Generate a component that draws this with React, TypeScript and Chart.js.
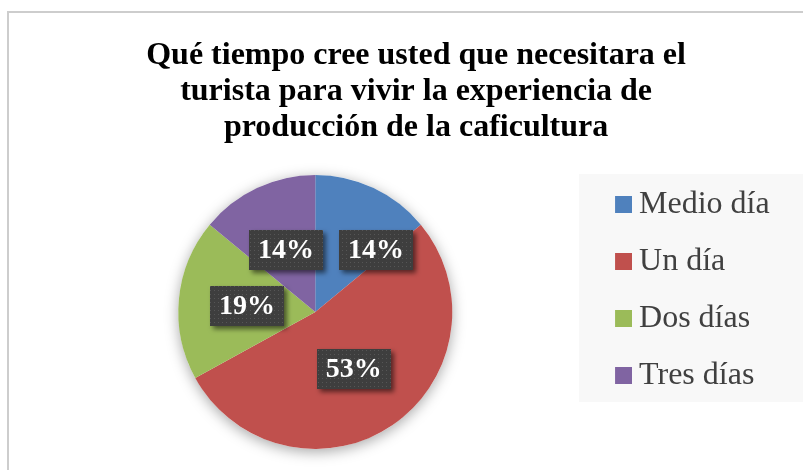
import React, { useEffect, useRef } from 'react';
import { Chart, registerables } from 'chart.js';

Chart.register(...registerables);

const titleLines = [
  'Qué tiempo cree usted que necesitara el',
  'turista para vivir la experiencia de',
  'producción de la caficultura',
];
const categories = ['Medio día', 'Un día', 'Dos días', 'Tres días'];
const values = [14, 53, 19, 14];
const colors = ['#4F81BD', '#C0504D', '#9BBB59', '#8064A2'];

const SERIF = '"Liberation Serif", "Times New Roman", serif';
const SWATCH_W = 20;

function makeSwatch(color: string) {
  const c = document.createElement('canvas');
  c.width = SWATCH_W + 18;
  c.height = 17;
  const g = c.getContext('2d')!;
  g.fillStyle = color;
  g.fillRect(SWATCH_W + 1, 0, 17, 17);
  return c;
}

function makePattern(ctx: CanvasRenderingContext2D) {
  const c = document.createElement('canvas');
  c.width = 4;
  c.height = 4;
  const g = c.getContext('2d')!;
  g.fillStyle = '#3e3e3e';
  g.fillRect(0, 0, 4, 4);
  g.fillStyle = '#565656';
  g.fillRect(1, 1, 1, 1);
  return ctx.createPattern(c, 'repeat');
}

const legendBgPlugin = {
  id: 'legendBg',
  beforeDraw(chart: any) {
    const l = chart.legend;
    if (!l) return;
    const ctx = chart.ctx;
    ctx.save();
    ctx.fillStyle = '#f8f8f8';
    const x0 = l.left + 1;
    ctx.fillRect(x0, l.top + 10, chart.width - x0, 228);
    ctx.restore();
  },
};

const pieShadowPlugin = {
  id: 'pieShadow',
  beforeDatasetsDraw(chart: any) {
    const arc = chart.getDatasetMeta(0).data[0];
    if (!arc) return;
    const { x, y, outerRadius } = arc.getProps(['x', 'y', 'outerRadius'], true);
    const ctx = chart.ctx;
    ctx.save();
    ctx.shadowColor = 'rgba(0,0,0,0.35)';
    ctx.shadowBlur = 14;
    ctx.shadowOffsetY = 3;
    ctx.beginPath();
    ctx.arc(x, y, outerRadius, 0, Math.PI * 2);
    ctx.fillStyle = '#ffffff';
    ctx.fill();
    ctx.restore();
  },
};

const dataLabelPlugin = {
  id: 'boxLabels',
  afterDatasetsDraw(chart: any) {
    const ctx = chart.ctx as CanvasRenderingContext2D;
    const meta = chart.getDatasetMeta(0);
    const data = chart.data.datasets[0].data as number[];
    const total = data.reduce((a, b) => a + b, 0);
    const W = 74;
    const H = 40;
    const gap = 16;
    const items = meta.data.map((arc: any, i: number) => {
      const p = arc.getProps(['x', 'y', 'startAngle', 'endAngle', 'outerRadius'], true);
      const mid = (p.startAngle + p.endAngle) / 2;
      const r = p.outerRadius * 0.5;
      return {
        x: p.x + Math.cos(mid) * r,
        y: p.y + Math.sin(mid) * r,
        text: Math.round((data[i] / total) * 100) + '%',
      };
    });
    const placed: any[] = [];
    for (let i = items.length - 1; i >= 0; i--) {
      const it = items[i];
      for (const o of placed) {
        if (Math.abs(it.x - o.x) < W && Math.abs(it.y - o.y) < H) {
          const dir = it.x >= o.x ? 1 : -1;
          it.x = o.x + dir * (W + gap);
        }
      }
      placed.push(it);
    }
    const pattern = makePattern(ctx);
    items.forEach((it: any) => {
      ctx.save();
      ctx.shadowColor = 'rgba(0,0,0,0.55)';
      ctx.shadowBlur = 5;
      ctx.shadowOffsetX = 3;
      ctx.shadowOffsetY = 3;
      ctx.fillStyle = pattern || '#3e3e3e';
      ctx.fillRect(Math.round(it.x - W / 2), Math.round(it.y - H / 2), W, H);
      ctx.restore();
      ctx.save();
      ctx.fillStyle = '#ffffff';
      ctx.font = 'bold 28px ' + SERIF;
      ctx.textAlign = 'center';
      ctx.textBaseline = 'middle';
      ctx.fillText(it.text, it.x, it.y + 1);
      ctx.restore();
    });
  },
};

export default function App() {
  const ref = useRef<HTMLCanvasElement>(null);

  useEffect(() => {
    document.body.style.overflow = 'hidden';
    const canvas = ref.current!;
    const defaultGen = (Chart as any).overrides.pie.plugins.legend.labels.generateLabels;
    const chart = new Chart(canvas, {
      type: 'pie',
      data: {
        labels: categories,
        datasets: [
          {
            data: values,
            backgroundColor: colors,
            borderWidth: 0,
          },
        ],
      },
      options: {
        responsive: false,
        animation: false,
        radius: 137,
        layout: { padding: { left: 43.5, right: 45.3, top: 0, bottom: 23 } },
        plugins: {
          title: {
            display: true,
            text: titleLines,
            color: '#000000',
            font: { family: SERIF, size: 32, weight: 'bold', lineHeight: 1.14 },
            padding: { top: 24, bottom: 17.5 },
          },
          legend: {
            position: 'right',
            align: 'start',
            fullSize: false,
            labels: {
              usePointStyle: true,
              pointStyleWidth: SWATCH_W,
              boxHeight: 17,
              padding: 25,
              color: '#404040',
              font: { family: SERIF, size: 32 },
              generateLabels: (c: any) =>
                defaultGen(c).map((item: any) => ({
                  ...item,
                  pointStyle: makeSwatch(item.fillStyle),
                  lineWidth: 0,
                })),
            },
          },
          tooltip: { enabled: false },
        },
      } as any,
      plugins: [legendBgPlugin, pieShadowPlugin, dataLabelPlugin],
    });
    return () => chart.destroy();
  }, []);

  return (
    <div
      style={{
        position: 'absolute',
        left: 7,
        top: 11,
        width: 794,
        height: 457,
        overflow: 'hidden',
        borderTop: '2px solid #cdcdcd',
        borderLeft: '2px solid #cdcdcd',
        background: '#ffffff',
      }}
    >
      <canvas ref={ref} width={816} height={470} style={{ display: 'block' }} />
    </div>
  );
}
